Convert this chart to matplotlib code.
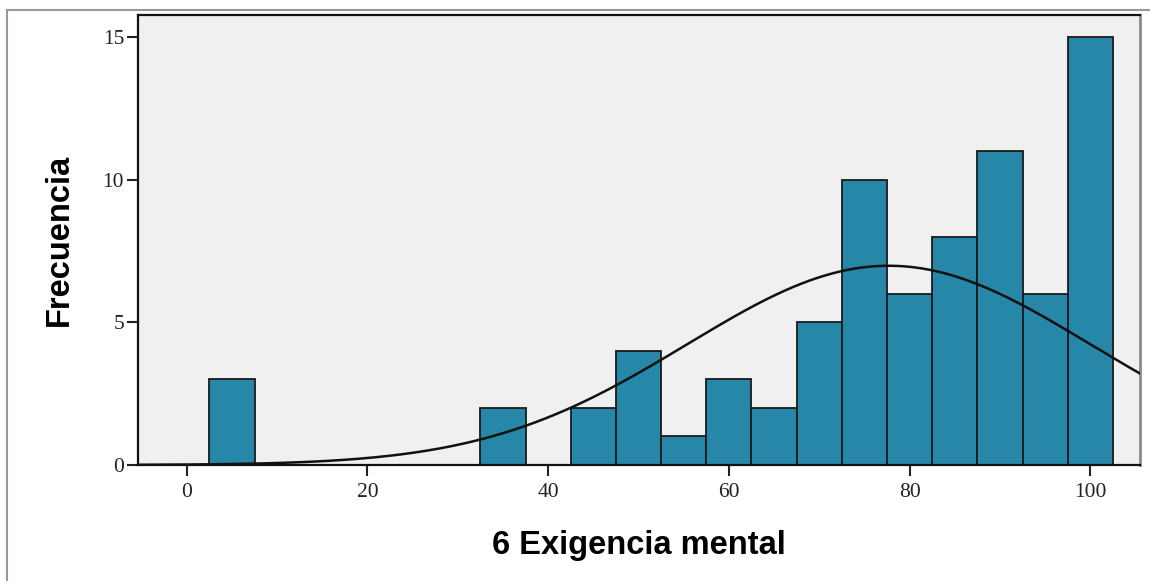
import numpy as np
import matplotlib.pyplot as plt
from matplotlib.lines import Line2D

# histogram of "6 Exigencia mental" (bins of width 5)
bin_centers = [5, 35, 45, 50, 55, 60, 65, 70, 75, 80, 85, 90, 95, 100]
counts = [3, 2, 2, 4, 1, 3, 2, 5, 10, 6, 8, 11, 6, 15]
bin_width = 5

xlabel = '6 Exigencia mental'
ylabel = 'Frecuencia'

fig = plt.figure(figsize=(11.5, 5.81), dpi=100)
ax = fig.add_axes([0.12, 0.1997, 0.8713, 0.7745])
ax.set_facecolor('#f0f0f0')

ax.bar(bin_centers, counts, width=bin_width, color='#2787a8',
       edgecolor='#1a1a1a', linewidth=1.3, zorder=2)

# normal curve fitted from the binned data
c = np.array(bin_centers, dtype=float)
n = np.array(counts, dtype=float)
N = n.sum()
mu = (c * n).sum() / N
sd = np.sqrt(((c - mu) ** 2 * n).sum() / (N - 1))
xs = np.linspace(-5.4, 105.5, 400)
ys = N * bin_width / (sd * np.sqrt(2 * np.pi)) * np.exp(-0.5 * ((xs - mu) / sd) ** 2)
ax.plot(xs, ys, color='#111111', linewidth=1.8, zorder=3)

ax.set_xlim(-5.4, 105.5)
ax.set_ylim(0, 15.77)
ax.set_xticks([0, 20, 40, 60, 80, 100])
ax.set_yticks([0, 5, 10, 15])
ax.tick_params(axis='both', direction='out', length=8, width=1.5,
               labelsize=15.5, colors='#222222')
for lab in ax.get_xticklabels() + ax.get_yticklabels():
    lab.set_family('Liberation Serif')
ax.tick_params(axis='x', pad=5)
ax.tick_params(axis='y', pad=2)

for s in ['left', 'top', 'bottom']:
    ax.spines[s].set_color('#111111')
    ax.spines[s].set_linewidth(1.6)
ax.spines['right'].set_color('#8a8a8a')
ax.spines['right'].set_linewidth(2)

ax.set_xlabel(xlabel, fontsize=23.5, fontweight='bold', family='Liberation Sans',
              labelpad=20)
ax.set_ylabel(ylabel, fontsize=23.5, fontweight='bold', family='Liberation Sans',
              labelpad=20)

# outer frame lines
fig.add_artist(Line2D([7 / 1150, 1], [1 - 10 / 581, 1 - 10 / 581],
                      transform=fig.transFigure, color='#999999', linewidth=1.5))
fig.add_artist(Line2D([7 / 1150, 7 / 1150], [0, 1 - 10 / 581],
                      transform=fig.transFigure, color='#999999', linewidth=1.5))

fig.savefig('out.png', dpi=100)
